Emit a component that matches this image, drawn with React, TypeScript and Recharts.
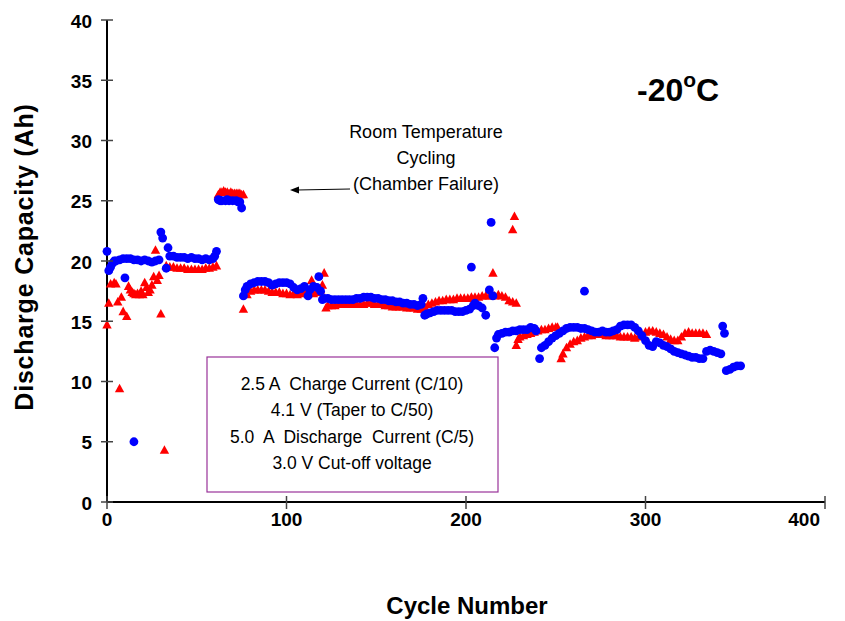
import { ScatterChart, Scatter, XAxis, YAxis } from "recharts";

// cycle, discharge capacity (Ah)
const redPoints: [number, number][] = [
  [0, 14.7], [1, 16.5], [2, 18.1], [4, 18.2], [5, 18.1], [6, 16.6], [7, 9.4], [8, 17.0], [9, 15.8], [11, 15.4],
  [12, 17.9], [13, 17.6], [14, 17.4], [15, 17.3], [16, 17.2], [17, 17.3], [18, 17.2], [19, 17.5], [20, 17.2],
  [21, 18.2], [22, 17.8], [23, 17.4], [24, 17.6], [25, 18.0], [26, 18.7], [27, 20.9], [28, 18.4], [29, 18.8],
  [30, 15.6], [32, 4.3],
  [33, 19.6], [35, 19.5], [37, 19.5], [39, 19.4], [41, 19.4], [43, 19.4], [45, 19.3], [47, 19.3], [49, 19.3],
  [51, 19.3], [53, 19.3], [55, 19.4], [57, 19.4], [59, 19.5], [61, 19.6],
  [62, 25.5], [63, 25.7], [64, 25.7], [65, 25.8], [66, 25.7], [67, 25.7], [68, 25.6], [69, 25.7], [70, 25.6],
  [71, 25.6], [72, 25.6], [73, 25.6], [74, 25.6], [75, 25.5], [76, 25.5],
  [76, 16.0], [78, 17.2], [80, 17.5], [82, 17.6], [84, 17.6], [86, 17.6], [88, 17.6], [90, 17.5], [92, 17.4],
  [94, 17.4], [96, 17.4], [98, 17.3], [100, 17.3], [102, 17.2], [104, 17.3], [106, 17.2], [108, 17.3],
  [110, 17.4], [112, 17.3], [114, 18.4], [115, 17.3], [117, 17.4], [119, 17.6], [120, 18.0], [121, 19.0],
  [122, 16.1], [123, 16.3], [125, 16.3], [127, 16.3], [129, 16.4], [131, 16.4], [133, 16.4], [135, 16.4],
  [137, 16.4], [139, 16.4], [141, 16.4], [143, 16.4], [145, 16.5], [147, 16.5], [149, 16.4], [151, 16.4],
  [153, 16.4], [155, 16.3], [157, 16.3], [159, 16.2], [161, 16.2], [163, 16.2], [165, 16.2], [167, 16.1],
  [169, 16.1], [171, 16.1], [173, 16.0], [175, 16.0], [177, 16.2], [179, 16.4],
  [181, 16.5], [183, 16.6], [185, 16.7], [187, 16.7], [189, 16.8], [191, 16.8], [193, 16.8], [195, 16.9],
  [197, 16.9], [199, 16.9], [201, 16.9], [203, 17.0], [205, 17.0], [207, 17.0], [209, 17.1], [211, 17.1],
  [213, 17.1], [215, 19.0], [216, 17.1], [218, 17.2], [220, 17.1], [222, 17.0], [224, 16.7], [226, 16.6],
  [226, 22.6], [227, 23.7], [228, 16.5],
  [228, 13.0], [229, 13.5], [230, 13.7], [232, 13.8], [234, 13.9], [236, 14.0], [238, 14.1], [240, 14.2],
  [242, 14.3], [244, 14.3], [246, 14.4], [248, 14.5], [250, 14.5], [251, 14.5],
  [253, 11.9], [254, 12.3], [256, 12.8], [258, 13.1], [260, 13.3], [262, 13.4], [264, 13.6], [266, 13.7],
  [268, 13.8], [270, 13.8], [272, 13.9], [274, 13.9], [276, 13.9], [278, 13.8], [280, 13.8], [282, 13.8],
  [284, 13.8], [286, 13.7], [288, 13.7], [290, 13.7], [292, 13.7], [294, 13.6], [296, 13.7], [298, 13.9],
  [300, 14.1], [302, 14.2], [304, 14.2], [306, 14.1], [308, 14.0], [310, 13.9], [312, 13.7], [314, 13.5],
  [316, 13.4], [318, 13.4], [320, 13.7], [322, 14.0], [324, 14.1], [326, 14.0], [328, 14.0], [330, 14.0],
  [332, 14.0], [334, 13.9],
];

const bluePoints: [number, number][] = [
  [0, 20.8], [1, 19.2], [2, 19.5], [3, 19.8], [4, 20.0], [5, 20.0], [7, 20.1], [9, 20.2], [10, 18.6],
  [11, 20.2], [13, 20.2], [15, 5.0], [15, 20.1], [17, 20.1], [19, 20.0], [21, 20.1], [23, 20.0], [25, 19.9],
  [27, 20.0], [29, 20.1], [30, 22.4], [31, 21.9], [33, 19.4], [34, 21.1], [35, 20.4], [37, 20.4], [39, 20.3],
  [41, 20.3], [43, 20.3], [45, 20.2], [47, 20.3], [49, 20.2], [51, 20.2], [53, 20.1], [55, 20.2], [57, 20.1],
  [59, 20.2], [60, 20.4], [61, 20.8],
  [62, 25.1], [63, 25.0], [64, 25.0], [66, 25.0], [67, 25.1], [68, 25.0], [70, 25.0], [72, 25.0], [73, 24.9],
  [74, 24.9], [75, 24.4],
  [76, 17.1], [77, 17.6], [78, 17.9], [80, 18.1], [82, 18.2], [84, 18.3], [86, 18.3], [88, 18.3], [90, 18.2],
  [92, 18.0], [94, 18.1], [96, 18.2], [98, 18.2], [100, 18.2], [102, 18.1], [104, 17.8], [106, 17.6],
  [108, 17.7], [110, 17.9], [112, 17.1], [113, 17.6], [115, 17.9], [117, 17.8], [118, 18.7], [119, 17.5],
  [120, 16.8],
  [121, 16.9], [123, 16.9], [125, 16.8], [127, 16.8], [129, 16.8], [131, 16.8], [133, 16.8], [135, 16.8],
  [137, 16.8], [139, 16.9], [141, 16.9], [143, 17.0], [145, 17.0], [147, 17.0], [149, 16.9], [151, 16.9],
  [153, 16.8], [155, 16.8], [157, 16.7], [159, 16.7], [161, 16.6], [163, 16.6], [165, 16.5], [167, 16.5],
  [169, 16.4], [171, 16.4], [173, 16.3], [175, 16.4], [176, 16.9], [177, 15.5],
  [178, 15.6], [180, 15.7], [182, 15.8], [184, 15.9], [186, 15.9], [188, 15.9], [190, 15.9], [192, 15.9],
  [194, 15.8], [196, 15.8], [198, 15.8], [200, 15.9], [202, 16.0], [203, 19.5], [204, 16.3], [205, 16.5],
  [207, 16.3], [209, 16.1], [211, 15.5], [213, 17.6], [214, 23.2], [215, 17.1],
  [216, 12.8], [217, 13.6], [218, 13.9], [220, 14.0], [222, 14.1], [224, 14.1], [226, 14.2], [228, 14.2],
  [230, 14.3], [232, 14.3], [234, 14.3], [236, 14.5], [238, 14.4], [239, 14.2],
  [241, 11.9], [242, 12.8], [244, 13.0], [246, 13.3], [248, 13.6], [250, 13.8], [252, 14.0], [254, 14.2],
  [256, 14.4], [258, 14.5], [260, 14.5], [262, 14.5], [264, 14.4], [266, 17.5], [266, 14.4], [268, 14.3],
  [270, 14.2], [272, 14.1], [274, 14.1], [276, 14.2], [278, 14.1], [280, 14.1], [282, 14.2], [284, 14.3],
  [286, 14.6], [288, 14.7], [290, 14.7], [292, 14.7], [294, 14.5], [296, 14.2], [298, 13.8], [300, 13.4],
  [302, 13.0], [304, 12.9], [306, 13.3], [308, 13.2], [310, 13.0], [312, 12.9], [314, 12.7], [316, 12.5],
  [318, 12.4], [320, 12.3], [322, 12.2], [324, 12.1], [326, 12.0], [328, 12.0], [330, 11.9], [332, 11.9],
  [334, 12.5], [336, 12.6], [338, 12.5], [340, 12.4], [342, 12.3], [343, 14.6], [344, 14.0], [345, 10.9],
  [347, 11.0], [349, 11.2], [351, 11.3], [353, 11.3],
];

const xTicks = [0, 100, 200, 300, 400];
const yTicks = [0, 5, 10, 15, 20, 25, 30, 35, 40];

const boxLines = [
  "2.5 A  Charge Current (C/10)",
  "4.1 V (Taper to C/50)",
  "5.0  A  Discharge  Current (C/5)",
  "3.0 V Cut-off voltage",
];
const noteLines = ["Room Temperature", "Cycling", "(Chamber Failure)"];

const FONT = "'Liberation Sans', Arial, sans-serif";

const redData = redPoints.map(([cycle, ah]) => ({ cycle, ah }));
const blueData = bluePoints.map(([cycle, ah]) => ({ cycle, ah }));

const Triangle = (props: any) => {
  const { cx, cy } = props;
  return (
    <polygon
      points={`${cx},${cy - 5} ${cx + 4.7},${cy + 3.6} ${cx - 4.7},${cy + 3.6}`}
      fill="#ff0000"
    />
  );
};

const Circle = (props: any) => <circle cx={props.cx} cy={props.cy} r={4.4} fill="#0000ff" />;

const YTick = (props: any) => {
  const { x, y, payload } = props;
  return (
    <g>
      <line x1={x - 6} x2={x + 6} y1={y} y2={y} stroke="#444" strokeWidth={1.5} />
      <text x={x - 15} y={y + 1} textAnchor="end" dominantBaseline="central" fontSize={19} fontWeight="bold" fontFamily={FONT} fill="#000">
        {payload.value}
      </text>
    </g>
  );
};

const XTick = (props: any) => {
  const { x, y, payload } = props;
  // last label sits inside the right edge, like the original
  const last = payload.value === xTicks[xTicks.length - 1];
  return (
    <g>
      <line x1={x} x2={x} y1={y - 6} y2={y + 7} stroke="#444" strokeWidth={1.5} />
      <text x={last ? x - 5 : x} y={y + 17} textAnchor={last ? "end" : "middle"} dominantBaseline="central" fontSize={19} fontWeight="bold" fontFamily={FONT} fill="#000">
        {payload.value}
      </text>
    </g>
  );
};

export default function App() {
  return (
    <div style={{ position: "absolute", left: 0, top: 0, width: 845, height: 621, background: "#fff" }}>
      <ScatterChart width={845} height={621} margin={{ top: 20, right: 20, bottom: 0, left: 0 }}>
        <XAxis
          type="number"
          dataKey="cycle"
          domain={[0, 400]}
          ticks={xTicks}
          height={119}
          tickSize={0}
          tickMargin={0}
          tick={<XTick />}
          axisLine={{ stroke: "#000", strokeWidth: 2 }}
          tickLine={false}
        />
        <YAxis
          type="number"
          dataKey="ah"
          domain={[0, 40]}
          ticks={yTicks}
          width={107}
          tickSize={0}
          tickMargin={0}
          tick={<YTick />}
          axisLine={{ stroke: "#000", strokeWidth: 2 }}
          tickLine={false}
        />
        <Scatter data={redData} shape={<Triangle />} isAnimationActive={false} />
        <Scatter data={blueData} shape={<Circle />} isAnimationActive={false} />

        <text transform="translate(33,257) rotate(-90)" textAnchor="middle" fontSize={25} fontWeight="bold" letterSpacing={0.8} fontFamily={FONT} fill="#000">
          Discharge Capacity (Ah)
        </text>
        <text x={467} y={614} textAnchor="middle" fontSize={24} fontWeight="bold" fontFamily={FONT} fill="#000">
          Cycle Number
        </text>

        <text x={637} y={101} fontSize={32} fontWeight="bold" fontFamily={FONT} fill="#000">
          -20<tspan fontSize={21} dy={-14}>o</tspan><tspan dy={14}>C</tspan>
        </text>

        {noteLines.map((t, i) => (
          <text key={t} x={426} y={138 + i * 26} textAnchor="middle" fontSize={18} fontFamily={FONT} fill="#000">
            {t}
          </text>
        ))}
        <line x1={350} y1={189} x2={297} y2={190} stroke="#000" strokeWidth={1} />
        <polygon points="290,190 299,186.5 299,193.5" fill="#000" />

        <rect x={207} y={357} width={291} height={135} fill="#fff" stroke="#993399" strokeWidth={1.2} />
        {boxLines.map((t, i) => (
          <text key={t} x={352} y={390 + i * 26.3} textAnchor="middle" fontSize={17.5} fontFamily={FONT} fill="#000" style={{ whiteSpace: "pre" }}>
            {t}
          </text>
        ))}
      </ScatterChart>
    </div>
  );
}
